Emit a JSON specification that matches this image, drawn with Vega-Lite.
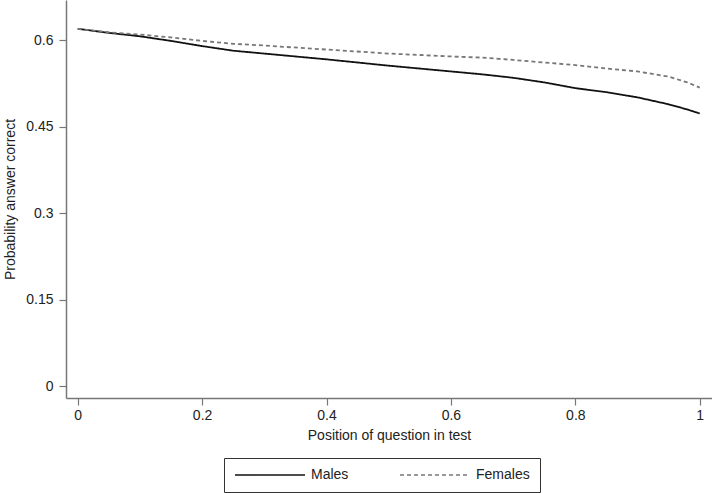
{
  "$schema": "https://vega.github.io/schema/vega-lite/v6.json",
  "autosize": "none",
  "width": 646,
  "height": 398,
  "padding": {"left": 66, "top": 0, "right": 0, "bottom": 95},
  "background": "white",
  "config": {
    "view": {"stroke": null},
    "font": "Liberation Sans",
    "axis": {"grid": false, "domainColor": "#777", "tickColor": "#777", "labelColor": "#222", "titleColor": "#222", "labelFontSize": 14, "titleFontSize": 14, "titleFontWeight": "normal", "labelFont": "Liberation Sans", "titleFont": "Liberation Sans", "domainWidth": 1.5, "tickWidth": 1.2}
  },
  "data": {
    "values": [
      {"pos": 0.0, "p": 0.620, "sex": "Males"},
      {"pos": 0.05, "p": 0.613, "sex": "Males"},
      {"pos": 0.1, "p": 0.607, "sex": "Males"},
      {"pos": 0.15, "p": 0.599, "sex": "Males"},
      {"pos": 0.2, "p": 0.590, "sex": "Males"},
      {"pos": 0.25, "p": 0.582, "sex": "Males"},
      {"pos": 0.3, "p": 0.577, "sex": "Males"},
      {"pos": 0.4, "p": 0.567, "sex": "Males"},
      {"pos": 0.5, "p": 0.556, "sex": "Males"},
      {"pos": 0.6, "p": 0.546, "sex": "Males"},
      {"pos": 0.65, "p": 0.541, "sex": "Males"},
      {"pos": 0.7, "p": 0.535, "sex": "Males"},
      {"pos": 0.75, "p": 0.527, "sex": "Males"},
      {"pos": 0.8, "p": 0.517, "sex": "Males"},
      {"pos": 0.85, "p": 0.510, "sex": "Males"},
      {"pos": 0.9, "p": 0.501, "sex": "Males"},
      {"pos": 0.95, "p": 0.489, "sex": "Males"},
      {"pos": 0.98, "p": 0.480, "sex": "Males"},
      {"pos": 1.0, "p": 0.473, "sex": "Males"},
      {"pos": 0.0, "p": 0.620, "sex": "Females"},
      {"pos": 0.05, "p": 0.614, "sex": "Females"},
      {"pos": 0.1, "p": 0.610, "sex": "Females"},
      {"pos": 0.15, "p": 0.605, "sex": "Females"},
      {"pos": 0.2, "p": 0.599, "sex": "Females"},
      {"pos": 0.25, "p": 0.594, "sex": "Females"},
      {"pos": 0.3, "p": 0.591, "sex": "Females"},
      {"pos": 0.4, "p": 0.584, "sex": "Females"},
      {"pos": 0.5, "p": 0.577, "sex": "Females"},
      {"pos": 0.6, "p": 0.572, "sex": "Females"},
      {"pos": 0.65, "p": 0.570, "sex": "Females"},
      {"pos": 0.7, "p": 0.566, "sex": "Females"},
      {"pos": 0.8, "p": 0.557, "sex": "Females"},
      {"pos": 0.85, "p": 0.551, "sex": "Females"},
      {"pos": 0.9, "p": 0.546, "sex": "Females"},
      {"pos": 0.95, "p": 0.537, "sex": "Females"},
      {"pos": 0.98, "p": 0.527, "sex": "Females"},
      {"pos": 1.0, "p": 0.518, "sex": "Females"}
    ]
  },
  "mark": {"type": "line", "strokeWidth": 1.8, "clip": true},
  "encoding": {
    "x": {
      "field": "pos", "type": "quantitative",
      "title": "Position of question in test",
      "scale": {"domain": [-0.0188, 1.0197], "nice": false, "zero": false},
      "axis": {"values": [0, 0.2, 0.4, 0.6, 0.8, 1], "format": ".1~f", "tickSize": 7, "labelPadding": 3, "titlePadding": 6, "labelFlush": false}
    },
    "y": {
      "field": "p", "type": "quantitative",
      "title": "Probability answer correct",
      "scale": {"domain": [-0.0208, 0.670], "nice": false, "zero": false},
      "axis": {"values": [0, 0.15, 0.3, 0.45, 0.6], "format": ".2~f", "tickSize": 7, "labelPadding": 6, "titlePadding": 8, "labelFlush": false}
    },
    "color": {
      "field": "sex", "type": "nominal",
      "scale": {"domain": ["Males", "Females"], "range": ["#111111", "#777777"]},
      "legend": {
        "title": null, "orient": "none", "direction": "horizontal",
        "legendX": 158, "legendY": 458,
        "symbolType": "stroke", "symbolSize": 4900, "symbolStrokeWidth": 1.5,
        "clipHeight": 14, "labelFontSize": 14, "labelColor": "#222", "labelFont": "Liberation Sans",
        "labelOffset": 5, "columnPadding": 50, "padding": 10,
        "strokeColor": "#333", "fillColor": "white"
      }
    },
    "strokeDash": {
      "field": "sex", "type": "nominal",
      "scale": {"domain": ["Males", "Females"], "range": [[1, 0], [4, 3]]},
      "legend": {
        "title": null, "orient": "none", "direction": "horizontal",
        "legendX": 158, "legendY": 458,
        "symbolType": "stroke", "symbolSize": 4900, "symbolStrokeWidth": 1.5,
        "clipHeight": 14, "labelFontSize": 14, "labelColor": "#222", "labelFont": "Liberation Sans",
        "labelOffset": 5, "columnPadding": 50, "padding": 10,
        "strokeColor": "#333", "fillColor": "white"
      }
    }
  }
}
